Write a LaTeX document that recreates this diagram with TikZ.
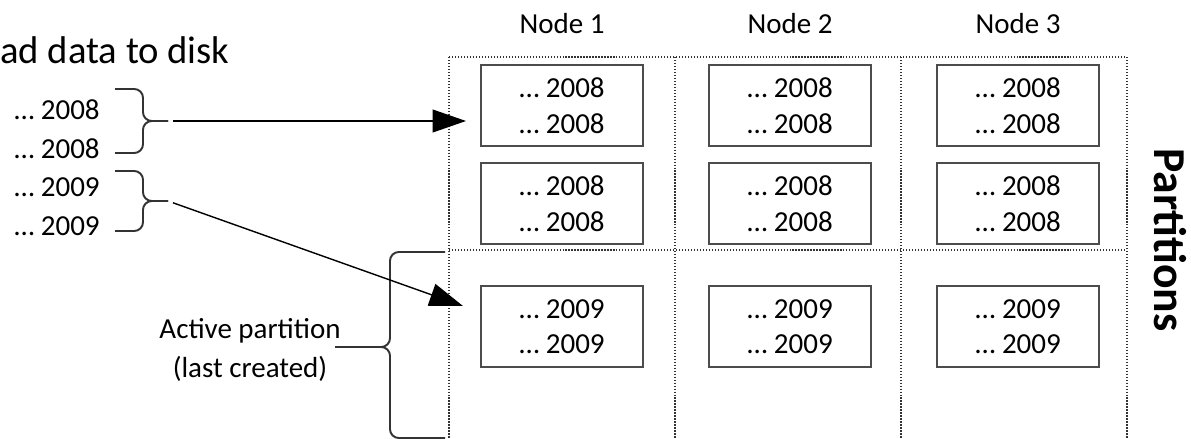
\documentclass[tikz,border=0pt]{standalone}
\usepackage{fontspec}
\setmainfont{Carlito}
\usetikzlibrary{arrows.meta, positioning}

\begin{document}
\begin{tikzpicture}[x=0.02cm, y=-0.02cm,
    txt/.style={font=\fontsize{16.5}{20.4}\selectfont, inner sep=0pt},
    part/.style={txt, draw=black!70, line width=1.2pt, fill=white, minimum width=3.24cm, minimum height=1.62cm, align=center},
    gridline/.style={black!80, line width=0.7pt, dash pattern=on 0.7pt off 1pt},
    bracket/.style={black!80, line width=1.1pt, rounded corners=5pt},
    load/.style={-{Triangle[length=19pt, width=13pt]}, line width=0.8pt, shorten <=3pt}]
    \useasboundingbox (0,0) rectangle (1191,439);

    % Grid of nodes and partitions
    \draw[gridline] (449,57) -- (1127,57);
    \draw[gridline] (449,250) -- (1127,250);
    \draw[gridline] (449,57) -- (449,445);
    \draw[gridline] (675,57) -- (675,445);
    \draw[gridline] (901,57) -- (901,445);
    \draw[gridline] (1127,57) -- (1127,445);

    % Partitions on each node
    \node[part] (n1p1) at (562,105.5) {\ldots{} 2008\\\ldots{} 2008};
    \node[part, below=0.3cm of n1p1] (n1p2) {\ldots{} 2008\\\ldots{} 2008};
    \node[part, below=0.8cm of n1p2] (n1p3) {\ldots{} 2009\\\ldots{} 2009};
    \node[part, right=1.28cm of n1p1] (n2p1) {\ldots{} 2008\\\ldots{} 2008};
    \node[part, below=0.3cm of n2p1] (n2p2) {\ldots{} 2008\\\ldots{} 2008};
    \node[part, below=0.8cm of n2p2] (n2p3) {\ldots{} 2009\\\ldots{} 2009};
    \node[part, right=1.28cm of n2p1] (n3p1) {\ldots{} 2008\\\ldots{} 2008};
    \node[part, below=0.3cm of n3p1] (n3p2) {\ldots{} 2008\\\ldots{} 2008};
    \node[part, below=0.8cm of n3p2] (n3p3) {\ldots{} 2009\\\ldots{} 2009};

    % Column titles
    \node[txt, above=0.6cm of n1p1] (node1) {Node 1};
    \node[txt, above=0.6cm of n2p1] (node2) {Node 2};
    \node[txt, above=0.6cm of n3p1] (node3) {Node 3};
    \node[txt, font=\fontsize{26}{30}\selectfont\bfseries, rotate=-90] (parts) at (1170,240) {Partitions};

    % Incoming rows
    \node[txt, font=\fontsize{22}{26}\selectfont, anchor=east] (load) at (230,50) {ad data to disk};
    \node[txt, anchor=east] (r1) at (100,110) {\ldots{} 2008};
    \node[txt, anchor=east] (r2) at (100,149) {\ldots{} 2008};
    \node[txt, anchor=east] (r3) at (100,187) {\ldots{} 2009};
    \node[txt, anchor=east] (r4) at (100,226) {\ldots{} 2009};

    % Braces
    \coordinate (b08) at (168,121);
    \coordinate (b09) at (168,201);
    \draw[bracket] (115,89) -- (143,89) -- (143,121) -- (b08);
    \draw[bracket] (115,153) -- (143,153) -- (143,121) -- (b08);
    \draw[bracket] (115,171) -- (143,171) -- (143,201) -- (b09);
    \draw[bracket] (115,231) -- (143,231) -- (143,201) -- (b09);

    % Active partition
    \coordinate (act) at (335,347);
    \draw[bracket] (445,252) -- (390,252) -- (390,347) -- (act);
    \draw[bracket] (445,438) -- (390,438) -- (390,347) -- (act);
    \node[txt, font=\fontsize{16.5}{22}\selectfont, align=center] (active) at (250,350) {Active partition\\(last created)};

    % Loading arrows
    \coordinate (in08) at (466,121);
    \coordinate (in09) at (463,306);
    \draw[load] (b08) -- (in08);
    \draw[load] (b09) -- (in09);

\end{tikzpicture}
\end{document}
